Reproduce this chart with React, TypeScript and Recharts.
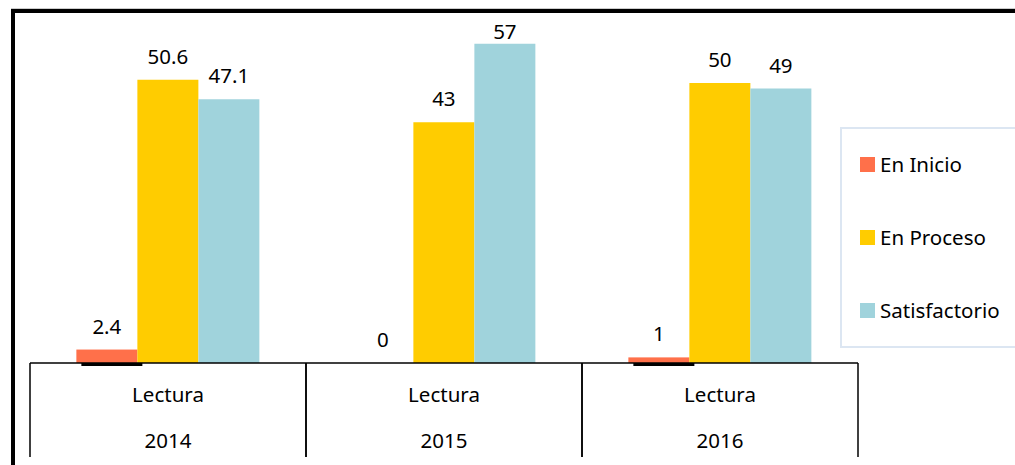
import React from 'react';
import { BarChart, Bar, XAxis, YAxis, LabelList } from 'recharts';

const years = ['2014', '2015', '2016'];
const areas = ['Lectura', 'Lectura', 'Lectura'];
const enInicio = [2.4, 0, 1];
const enProceso = [50.6, 43, 50];
const satisfactorio = [47.1, 57, 49];

const seriesNames = ['En Inicio', 'En Proceso', 'Satisfactorio'];
const seriesColors = ['#FF704A', '#FFCC00', '#A0D3DC'];

const data = years.map((year, i) => ({
  year,
  area: areas[i],
  enInicio: enInicio[i],
  enProceso: enProceso[i],
  satisfactorio: satisfactorio[i],
}));

const FONT = '"Noto Sans", "Open Sans", sans-serif';
const FS = 20.5;
const BASE_Y = 363;
const TABLE_BOTTOM = 457;

const CategoryTick = ({ x, payload, index }: any) => {
  const half = 138;
  const row = data[index] || { area: '' };
  return (
    <g>
      <line x1={x - half} y1={BASE_Y} x2={x - half} y2={TABLE_BOTTOM} stroke="#000" strokeWidth={1.5} />
      <line x1={x + half} y1={BASE_Y} x2={x + half} y2={TABLE_BOTTOM} stroke="#000" strokeWidth={1.5} />
      <text x={x} y={402} textAnchor="middle" fontSize={FS} fontFamily={FONT} fill="#000">{row.area}</text>
      <text x={x} y={448} textAnchor="middle" fontSize={FS} fontFamily={FONT} fill="#000">{payload.value}</text>
    </g>
  );
};

// orange bar with the dark underline seen under it in the original
const InicioShape = (props: any) => {
  const { x, y, width, height, fill } = props;
  if (!height || height <= 0) return null;
  return (
    <g>
      <rect x={x + 5} y={y + height} width={width} height={3} fill="#000" />
      <rect x={x} y={y} width={width} height={height} fill={fill} />
    </g>
  );
};

// labels are kept inside the frame, as Excel does for the tallest bar
const ValueLabel = ({ x, y, width, value }: any) => (
  <text x={x + width / 2} y={Math.max(y - 16, 39)} textAnchor="middle" fontSize={FS} fontFamily={FONT} fill="#000">
    {value}
  </text>
);

const LegendBox = () => (
  <div
    style={{
      position: 'absolute',
      left: 840,
      top: 127,
      border: '2px solid #DCE6F2',
      boxSizing: 'border-box',
      width: 180,
      height: 221,
      fontFamily: FONT,
      fontSize: FS,
      color: '#000',
    }}
  >
    {seriesNames.map((name, i) => (
      <div
        key={name}
        style={{ position: 'absolute', left: 18, top: 20 + i * 73, height: 30, display: 'flex', alignItems: 'center' }}
      >
        <span style={{ width: 15, height: 15, background: seriesColors[i], marginRight: 5, display: 'inline-block' }} />
        <span>{name}</span>
      </div>
    ))}
  </div>
);

export default function App() {
  return (
    <div style={{ position: 'absolute', left: 0, top: 0, width: 1015, height: 465, background: '#fff', overflow: 'hidden' }}>
      <div
        style={{
          position: 'absolute',
          left: 11,
          top: 8,
          width: 1010,
          height: 460,
          borderTop: '1px solid #ccc',
          boxSizing: 'border-box',
        }}
      />
      <div
        style={{
          position: 'absolute',
          left: 11,
          top: 9,
          width: 1010,
          height: 460,
          borderTop: '4px solid #000',
          borderLeft: '4px solid #000',
          boxSizing: 'border-box',
        }}
      />
      <div style={{ position: 'absolute', left: 0, top: 0 }}>
        <BarChart
          width={1015}
          height={465}
          data={data}
          margin={{ top: 27, right: 157, bottom: 0, left: 30 }}
          barCategoryGap="16.8%"
          barGap={0}
        >
          <XAxis
            dataKey="year"
            axisLine={{ stroke: '#000', strokeWidth: 1.5 }}
            tickLine={false}
            tick={<CategoryTick />}
            interval={0}
            height={102}
          />
          <YAxis hide domain={[0, 60]} />
          <Bar dataKey="enInicio" name={seriesNames[0]} fill={seriesColors[0]} shape={<InicioShape />} isAnimationActive={false}>
            <LabelList dataKey="enInicio" content={<ValueLabel />} />
          </Bar>
          <Bar dataKey="enProceso" name={seriesNames[1]} fill={seriesColors[1]} isAnimationActive={false}>
            <LabelList dataKey="enProceso" content={<ValueLabel />} />
          </Bar>
          <Bar dataKey="satisfactorio" name={seriesNames[2]} fill={seriesColors[2]} isAnimationActive={false}>
            <LabelList dataKey="satisfactorio" content={<ValueLabel />} />
          </Bar>
        </BarChart>
      </div>
      <LegendBox />
    </div>
  );
}
